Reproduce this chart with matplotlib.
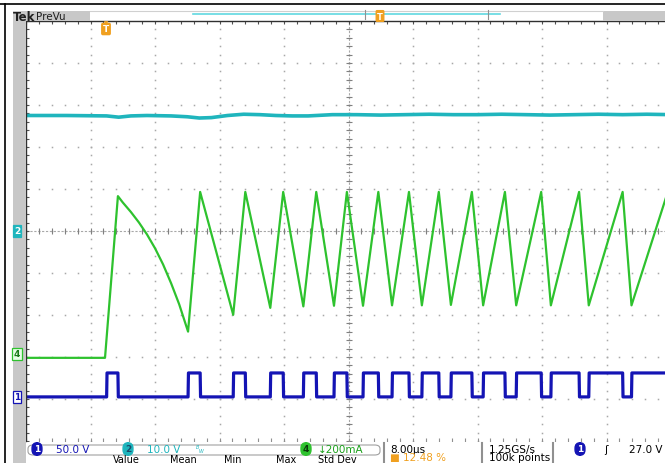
import numpy as np
import matplotlib.pyplot as plt
from matplotlib.patches import Rectangle, FancyBboxPatch

# Config (screen geometry in pixels, figure 665x464 @ 100 dpi)
W, H = 665, 464
X0, X1 = 26, 671      # graticule left / right (right is cut off)
Y0, Y1 = 22, 442      # graticule top / bottom

T_LEFT, T_DIV = -10.0, 8.0   # us, 8 us/div, trigger at 12.5 %

# Channel 1 (blue, 50 V/div): switching pulses, edges in us
ch1_rise = [0.0, 10.1, 15.7, 20.3, 24.4, 28.2, 31.8, 35.4, 39.1, 42.7,
            46.7, 50.8, 55.1, 59.8, 65.1]
ch1_fall = [1.4, 11.6, 17.2, 21.9, 26.0, 29.8, 33.7, 37.5, 41.2, 45.3,
            49.4, 53.9, 58.6, 64.0, 69.6]
ch1_low, ch1_high = 0.0, 28.5       # V
CH1_SCALE, CH1_OFF = 50.0, -3.95

# Channel 2 (cyan, 10 V/div): supply voltage
ch2_t = [-10, -5, 0, 1.5, 3, 5, 8, 10, 11.5, 13, 15, 17, 19, 21, 23, 25,
         28, 31, 34, 37, 40, 43, 46, 49, 52, 55, 58, 61, 64, 67, 70]
ch2_v = [27.5, 27.5, 27.4, 27.1, 27.4, 27.5, 27.4, 27.2, 26.9, 27.0,
         27.5, 27.8, 27.7, 27.5, 27.4, 27.4, 27.7, 27.7, 27.6, 27.7,
         27.8, 27.7, 27.7, 27.8, 27.7, 27.6, 27.7, 27.8, 27.7, 27.8, 27.7]
CH2_SCALE, CH2_OFF = 10.0, 0.0

# Channel 4 (green, 200 mA/div): inductor current
ch4_t = [-10, -0.2, 1.4, 2.0, 3.0, 4.0, 5.0, 6.0, 7.0, 8.0, 9.0, 10.1,
         11.6, 15.7, 17.2, 20.3, 21.9, 24.4, 26.0, 28.2, 29.8, 31.8, 33.7,
         35.4, 37.5, 39.1, 41.2, 42.7, 45.3, 46.7, 49.4, 50.8, 53.9, 55.1,
         58.6, 59.8, 64.0, 65.1, 69.6, 70]
ch4_i = [0, 0, 770, 740, 695, 645, 588, 522, 445, 355, 255, 125,
         790, 205, 790, 238, 790, 245, 790, 248, 790, 248, 790,
         250, 790, 250, 790, 252, 790, 250, 790, 250, 790, 250,
         790, 250, 790, 250, 790, 770]
CH4_SCALE, CH4_OFF = 200.0, -3.02

BLUE = '#1414b4'
CYAN = '#1fb5bd'
GREEN = '#2ec22e'
ORANGE = '#f0a020'
GRID = '#a8a8a8'
PANEL = '#c8c8c8'


def px(x, y):
    return x / W, 1 - y / H


fig = plt.figure(figsize=(W / 100, H / 100), dpi=100)
fig.patch.set_facecolor('white')

# screen frame bits
fig.add_artist(plt.Line2D([0, 1], [1 - 5 / H] * 2, color='black', lw=1.2))
fig.add_artist(plt.Line2D([5 / W] * 2, [0, 1 - 5 / H], color='black', lw=1.2))
fig.add_artist(Rectangle(px(13, 464), 13 / W, 452 / H, color=PANEL, lw=0))
fig.add_artist(Rectangle(px(13, 22), 77 / W, 10 / H, color=PANEL, lw=0))
fig.add_artist(Rectangle(px(603, 22), 62 / W, 10 / H, color=PANEL, lw=0))
fig.add_artist(plt.Line2D([90 / W, 603 / W], [1 - 12 / H] * 2, color='#d0d0d0', lw=0.8))

ax = fig.add_axes([X0 / W, 1 - Y1 / H, (X1 - X0) / W, (Y1 - Y0) / H])
ax.set_xlim(T_LEFT, T_LEFT + 10 * T_DIV)
ax.set_ylim(-5, 5)
ax.set_facecolor('white')
ax.set_xticks([])
ax.set_yticks([])
for s in ['right', 'bottom']:
    ax.spines[s].set_visible(False)
for s in ['left', 'top']:
    ax.spines[s].set_color('#303030')
    ax.spines[s].set_linewidth(1.0)

# graticule dots
minor_t = T_LEFT + np.arange(0, 50.1) * T_DIV / 5
minor_y = np.arange(-25, 25.1) / 5
for k in range(1, 10):
    tk = T_LEFT + k * T_DIV
    ax.plot(np.full(minor_y.size, tk), minor_y, ls='none', marker='s', ms=1.1,
            color=GRID, mew=0)
for k in range(-4, 5):
    ax.plot(minor_t, np.full(minor_t.size, k), ls='none', marker='s', ms=1.1,
            color=GRID, mew=0)
# center cross with small ticks
tc = T_LEFT + 5 * T_DIV
ax.plot([T_LEFT, T_LEFT + 10 * T_DIV], [0, 0], color=GRID, lw=0.8, ls=(0, (2, 1.5)))
ax.plot([tc, tc], [-5, 5], color=GRID, lw=0.8, ls=(0, (2, 1.5)))
ax.plot(minor_t, np.zeros(minor_t.size), ls='none', marker='|', ms=4, color='#808080', mew=0.8)
ax.plot(np.full(minor_y.size, tc), minor_y, ls='none', marker='_', ms=4, color='#808080', mew=0.8)
# edge ticks
ax.plot(minor_t, np.full(minor_t.size, 5), ls='none', marker='|', ms=4, color='#505050', mew=0.8)
ax.plot(minor_t, np.full(minor_t.size, -5), ls='none', marker='|', ms=4, color='#909090', mew=0.8)
ax.plot(np.full(minor_y.size, T_LEFT), minor_y, ls='none', marker='_', ms=4, color='#505050', mew=0.8)

# ch2 trace
ax.plot(ch2_t, np.array(ch2_v) / CH2_SCALE + CH2_OFF, color=CYAN, lw=2.6)

# ch4 trace
ax.plot(ch4_t, np.array(ch4_i) / CH4_SCALE + CH4_OFF, color=GREEN, lw=1.6)

# ch1 trace (square wave from edge lists)
t1 = [T_LEFT]
v1 = [ch1_low]
for r, f in zip(ch1_rise, ch1_fall):
    t1 += [r, r + 0.05, f, f + 0.05]
    v1 += [ch1_low, ch1_high, ch1_high, ch1_low]
t1.append(T_LEFT + 10 * T_DIV)
v1.append(ch1_low)
ax.plot(t1, np.array(v1) / CH1_SCALE + CH1_OFF, color=BLUE, lw=2.3)

# channel markers on the left
for lab, yy, ec, fc, tcol in [('2', 232, CYAN, CYAN, 'white'),
                             ('4', 355, GREEN, '#e8ffe8', '#1a7a1a'),
                             ('1', 398, BLUE, 'white', BLUE)]:
    fig.text(*px(17, yy), lab, ha='center', va='center', fontsize=6.5, color=tcol,
             fontweight='bold',
             bbox=dict(boxstyle='square,pad=0.15', fc=fc, ec=ec, lw=0.9))

# header
fig.text(*px(13, 17.5), 'Tek', fontsize=8.5, fontweight='bold', va='center', color='#202020')
fig.text(*px(36, 17.5), 'PreVu', fontsize=7.5, va='center', color='#202020')
fig.add_artist(plt.Line2D([193 / W, 500 / W], [1 - 15 / H] * 2, color='#60d8e0', lw=1.2))
for xx in [365, 488]:
    fig.add_artist(plt.Line2D([xx / W] * 2, [1 - 11 / H, 1 - 20 / H], color='#909090', lw=0.8))
fig.text(*px(380, 17), 'T', fontsize=6, fontweight='bold', color='white', ha='center',
         va='center', bbox=dict(boxstyle='round,pad=0.1', fc=ORANGE, ec=ORANGE))
fig.text(*px(106, 30), 'T', fontsize=6.5, fontweight='bold', color='white', ha='center',
         va='center', bbox=dict(boxstyle='round,pad=0.12', fc=ORANGE, ec=ORANGE))
fig.text(*px(106, 24), '\u25bc', fontsize=4, color=ORANGE, ha='center', va='center')

# bottom readout bar
fig.add_artist(FancyBboxPatch(px(28, 456), 352 / W, 10 / H,
                              boxstyle='round,pad=0,rounding_size=0.008',
                              fc='white', ec='#a0a0a0', lw=0.8))
fig.text(*px(37, 450), '1', fontsize=6.5, color='white', ha='center', va='center',
         fontweight='bold', bbox=dict(boxstyle='round,pad=0.2,rounding_size=0.6', fc=BLUE, ec=BLUE))
fig.text(*px(56, 450), '50.0 V', fontsize=7.5, color=BLUE, va='center')
fig.text(*px(128, 450), '2', fontsize=6.5, color='#1a4a6a', ha='center', va='center',
         fontweight='bold', bbox=dict(boxstyle='round,pad=0.2,rounding_size=0.6', fc=CYAN, ec=CYAN))
fig.text(*px(147, 450), '10.0 V', fontsize=7.5, color=CYAN, va='center')
fig.text(*px(195, 450), '$^{B}{}_{W}$', fontsize=5, color=CYAN, va='center')
fig.text(*px(306, 450), '4', fontsize=6.5, color='#0a3a0a', ha='center', va='center',
         fontweight='bold', bbox=dict(boxstyle='round,pad=0.2,rounding_size=0.6', fc=GREEN, ec=GREEN))
fig.text(*px(318, 450), '\u2193200mA', fontsize=7.5, color='#1aa01a', va='center')
fig.text(*px(390, 450), '8.00\u00b5s', fontsize=7.5, color='black', va='center')
fig.text(*px(390, 458.5), '\u25a0 12.48 %', fontsize=7.5, color=ORANGE, va='center')
fig.text(*px(489, 450), '1.25GS/s', fontsize=7.5, color='black', va='center')
fig.text(*px(489, 458.5), '100k points', fontsize=7.5, color='black', va='center')
fig.text(*px(580, 450), '1', fontsize=6.5, color='white', ha='center', va='center',
         fontweight='bold', bbox=dict(boxstyle='round,pad=0.2,rounding_size=0.6', fc=BLUE, ec=BLUE))
fig.text(*px(604, 450), '\u0283', fontsize=7.5, color='black', va='center')
fig.text(*px(629, 450), '27.0 V', fontsize=7.5, color='black', va='center')
for xx, lab in [(113, 'Value'), (170, 'Mean'), (224, 'Min'), (276, 'Max'), (318, 'Std Dev')]:
    fig.text(*px(xx, 460), lab, fontsize=7, color='black', va='center')
for xx in [384, 482, 553]:
    fig.add_artist(plt.Line2D([xx / W] * 2, [0, 1 - 444 / H], color='#909090', lw=1.5))

fig.savefig('out.png', dpi=100)
